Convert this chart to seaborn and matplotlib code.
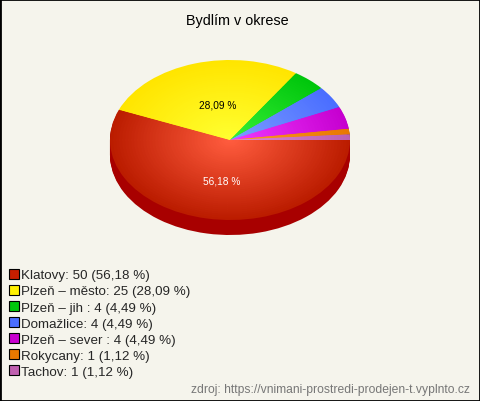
import matplotlib
matplotlib.use("Agg")
import matplotlib.pyplot as plt
from matplotlib.patches import Patch, Rectangle
import seaborn as sns

categories = ["Klatovy", "Plzeň – město", "Plzeň – jih ", "Domažlice", "Plzeň – sever ", "Rokycany", "Tachov"]
counts = [50, 25, 4, 4, 4, 1, 1]
shares = ["56,18", "28,09", "4,49", "4,49", "4,49", "1,12", "1,12"]
title = "Bydlím v okrese"
source = "zdroj: https://vnimani-prostredi-prodejen-t.vyplnto.cz"

edge_colors = ["#bb1c00", "#ffe500", "#00c60c", "#4a6eff", "#c600d0", "#e87800", "#bb60b0"]
centre_colors = ["#ff5c3e", "#ffff30", "#36ee36", "#7c9cff", "#f038ff", "#ff9a28", "#dc88dc"]
legend_colors = ["#c81e00", "#fff000", "#00c80c", "#4a6eff", "#c800d0", "#e87800", "#c060b0"]
side_colors = ["#a80000", "#b8a000", "#008c08", "#3048b0", "#8c0090", "#a05000", "#7a3a70"]

BG = "#f5f4ec"
W, H = 480, 402
RX, RY, DEPTH = 120, 80, 15
CX, CY = 230, 141

sns.set_theme(style="white")
plt.rcParams["font.family"] = ["Liberation Sans", "DejaVu Sans"]

fig = plt.figure(figsize=(W / 100, H / 100), dpi=100, facecolor=BG)
left, right = CX - RX, CX + RX
top, bottom = CY - RY, CY + RY + DEPTH
ax = fig.add_axes([left / W, 1 - bottom / H, (right - left) / W, (bottom - top) / H])

# side of the disc: stacked dark pies
for d in range(DEPTH, 0, -1):
    ax.pie(counts, colors=side_colors, startangle=0, counterclock=False,
           center=(0, -d / RY), radius=1, wedgeprops={"linewidth": 0})

# radial gradient on the top face: nested pies
steps = 40
ramps = [sns.blend_palette([e, c], steps) for e, c in zip(edge_colors, centre_colors)]
for i in range(steps):
    ax.pie(counts, colors=[r[i] for r in ramps], startangle=0, counterclock=False,
           radius=1 - i / steps, wedgeprops={"linewidth": 0})

ax.set_aspect("auto")
ax.set_xlim(-1, 1)
ax.set_ylim(-1 - DEPTH / RY, 1)
ax.axis("off")

def fx(x): return x / W
def fy(y): return 1 - y / H

fig.text(fx(237), fy(20.5), title, ha="center", va="center", fontsize=10.4, color="black")
fig.text(fx(218), fy(105), f"{shares[1]} %", ha="center", va="center", fontsize=7.3, color="black")
fig.text(fx(221.5), fy(182), f"{shares[0]} %", ha="center", va="center", fontsize=7.3, color="white")
fig.text(fx(470), fy(390), source, ha="right", va="center", fontsize=8.75, color="#777777")

handles = [Patch(facecolor=c, edgecolor="black", linewidth=0.8) for c in legend_colors]
labels = [f"{n}: {v} ({s} %)" for n, v, s in zip(categories, counts, shares)]
fig.legend(handles, labels, loc="upper left", bbox_to_anchor=(fx(9), fy(270)),
           bbox_transform=fig.transFigure, frameon=False, fontsize=9.6,
           borderpad=0, borderaxespad=0, handlelength=0.72, handleheight=0.72,
           handletextpad=0.15, labelspacing=0.275)

fig.add_artist(Rectangle((0, 0), 1, 1, transform=fig.transFigure, fill=False,
                         edgecolor="black", linewidth=2))
fig.savefig("out.png", dpi=100, facecolor=BG)
